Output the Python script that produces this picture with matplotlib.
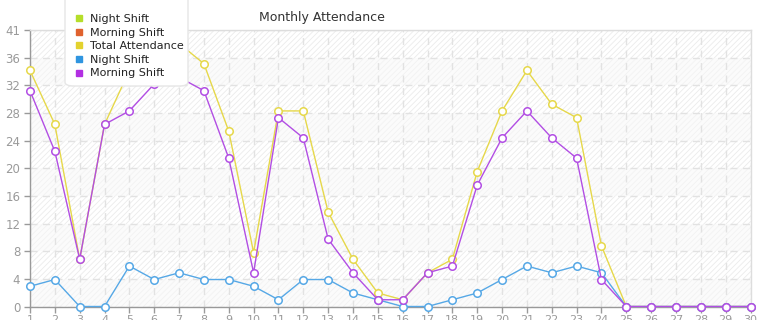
import numpy as np
import matplotlib
matplotlib.use("Agg")
import matplotlib.pyplot as plt
from matplotlib.lines import Line2D
from matplotlib.patches import FancyBboxPatch

days = list(range(1, 31))
night_shift = [3, 4, 0, 0, 6, 4, 5, 4, 4, 3, 1, 4, 4, 2, 1, 0, 0, 1, 2, 4, 6, 5, 6, 5, 0, 0, 0, 0, 0, 0]
morning_shift = [32, 23, 7, 27, 29, 33, 34, 32, 22, 5, 28, 25, 10, 5, 1, 1, 5, 6, 18, 25, 29, 25, 22, 4, 0, 0, 0, 0, 0, 0]
total_attendance = [35, 27, 7, 27, 35, 37, 39, 36, 26, 8, 29, 29, 14, 7, 2, 1, 5, 7, 20, 29, 35, 30, 28, 9, 0, 0, 0, 0, 0, 0]
y_max = 41
legend_labels = ["Night Shift", "Morning Shift", "Total Attendance", "Night Shift", "Morning Shift"]
legend_colors = ["#b5de2a", "#e0622e", "#e3d22e", "#2f95e0", "#b22fe2"]
title = "Monthly Attendance"

W, H = 765, 320
fig = plt.figure(figsize=(W / 100, H / 100), dpi=100)
fig.patch.set_facecolor("white")
ax = fig.add_axes([30 / W, 1 - 306.5 / H, (750.5 - 30) / W, (306.5 - 30) / H])
ax.set_facecolor("white")

yticks = np.linspace(0, y_max, 11)
plt.rcParams["hatch.linewidth"] = 0.6
for i in range(10):
    hc = "#ebebeb" if i % 2 == 1 else "#f2f2f2"
    fc = "white" if i % 2 == 1 else "#fbfbfb"
    ax.axhspan(yticks[i], yticks[i + 1], facecolor=fc, edgecolor=hc, hatch="//////", linewidth=0, zorder=0)

ax.set_xlim(1, 30)
ax.set_ylim(0, y_max)
ax.set_yticks(yticks)
ax.set_yticklabels([str(int(np.floor(v + 1e-9))) for v in yticks])
ax.set_xticks(days)
ax.set_xticklabels([str(d) for d in days])

ax.grid(True, color="#e2e2e2", linestyle=(0, (5, 4)), linewidth=1, zorder=1)
ax.set_axisbelow(True)

ax.tick_params(axis="both", colors="#9a9a9a", labelsize=8, length=4, width=1, pad=2)
ax.tick_params(axis="y", labelsize=8.5, pad=3)
for s in ["left", "bottom"]:
    ax.spines[s].set_color("#999999")
    ax.spines[s].set_linewidth(1)
for s in ["top", "right"]:
    ax.spines[s].set_color("#dddddd")
    ax.spines[s].set_linewidth(1)

line_kw = dict(linewidth=1, marker="o", markersize=5.4, markerfacecolor="white", markeredgewidth=1.1, clip_on=False)
ax.plot(days, total_attendance, color="#e6d84a", zorder=3, **line_kw)
ax.plot(days, night_shift, color="#56a8e6", zorder=4, **line_kw)
ax.plot(days, morning_shift, color="#b24ee4", zorder=5, **line_kw)

fig.text(322 / W, 1 - 17 / H, title, ha="center", va="center", fontsize=9, color="#333333")

# legend box (rounded, extends past the top edge)
box = FancyBboxPatch((65 / W, 1 - 86 / H), (188 - 65) / W, (96) / H,
                     boxstyle="round,pad=0,rounding_size=0.012", transform=fig.transFigure,
                     facecolor="white", edgecolor="#e6e6e6", linewidth=1, zorder=9)
fig.patches.append(box)

handles = [Line2D([], [], linestyle="none", marker="s", markersize=4.5, color=c) for c in legend_colors]
leg = fig.legend(handles, legend_labels, loc="upper left", bbox_to_anchor=(68 / W, 1 - 7.5 / H),
                 fontsize=8, frameon=False,
                 labelspacing=0.32, handlelength=0.8, handletextpad=0.6, borderpad=0.6, borderaxespad=0)
leg.set_zorder(10)
for t in leg.get_texts():
    t.set_color("#222222")

fig.savefig("out.png", dpi=100)
